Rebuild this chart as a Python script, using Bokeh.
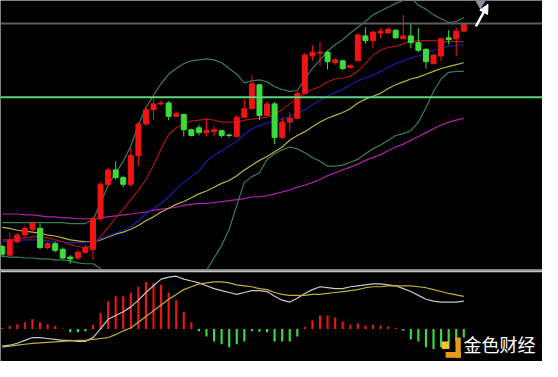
from bokeh.plotting import figure
from bokeh.layouts import column
from bokeh.models import ColumnDataSource, Range1d, Span, Arrow, NormalHead, Label
from bokeh.embed import file_html
from bokeh.resources import INLINE

# ---- price data (arbitrary price units) ----
opens = [25, 16, 30, 37, 43, 44, 24, 28, 22, 14, 13, 19, 22, 54, 90, 105, 97, 90, 120, 153,
         168, 174, 175, 161, 163, 147, 149, 144, 145, 146, 141.5, 140, 160, 169, 194, 162, 174, 139, 155, 159,
         185, 224, 227, 228, 217, 219, 212, 219, 245, 240, 248, 248, 251, 242, 245, 238, 231, 216, 224, 243,
         242, 250]
closes = [17, 32, 37, 44, 49, 24, 28, 21, 13, 12, 19, 24, 54, 90, 105, 97, 90, 120, 153, 168,
          174, 175, 161, 164, 147, 141, 144, 146, 147, 141, 141, 160, 169, 195, 162, 174, 139, 155, 159, 185,
          225, 228, 228, 218, 220, 211, 214, 246, 240, 249, 250, 252, 243, 245, 238, 230, 218, 225, 242, 241,
          250, 258]
highs = [27, 40, 39, 46, 51, 49, 30, 30, 24, 16, 22, 27, 56, 92, 107, 114, 99, 128, 155, 172,
         183, 178, 177, 166, 164, 148, 152, 159, 151, 147, 143, 162, 179, 204, 195, 177, 176, 160, 165, 187,
         227, 235, 239, 230, 222, 220, 215, 248, 254, 250, 253, 254, 252, 267, 259, 253, 232, 226, 243, 251,
         254, 258]
lows = [14, 15, 28, 35, 41, 22, 22, 19, 12, 7, 11, 17, 11, 52, 88, 95, 87, 87, 109, 151,
        157, 172, 157, 160, 140, 140, 141, 140, 140, 139, 139, 139, 160, 169, 157, 162, 132, 137, 145, 158,
        184, 219, 214, 210, 215, 209, 211, 219, 237, 232, 242, 248, 242, 242, 232, 228, 211, 216, 219, 236,
        224, 250]

bb_upper = [50, 50, 50, 50, 50, 50, 50, 50, 50, 49, 49, 49, 53, 70, 89, 102, 114, 130, 152, 170,
            183, 195, 205, 211, 216, 219, 220, 221, 220, 217, 211, 205, 196, 198, 199, 197, 192, 189, 187, 188,
            200, 211, 220, 229, 236, 241, 248, 254, 260, 267, 271, 275, 279, 282, 285, 277, 273, 267, 263, 259,
            260, 264]
bb_lower = [15, 14, 14, 13, 13, 12, 12, 11, 11, 10, 8, 7, 7, 2, -10, -21, -30, -38, -44, -48,
            -52, -53, -51, -48, -40, -30, -18, 0, 13, 26, 43, 68, 92, 98, 102, 116, 122, 126, 129, 127,
            123, 118, 114, 109, 109, 110, 113, 116, 122, 127, 131, 136, 141, 143, 146, 155, 170, 187, 200, 207,
            208, 208]
ma_red = [32, 32, 33, 34, 35, 35, 34, 32, 30, 27, 25, 24, 26, 35, 45, 55, 64, 74, 84, 95,
          110, 127, 142, 149, 153, 156, 157, 158, 157, 155, 155, 155, 157, 158, 159, 160, 163, 168, 174, 180,
          185, 189, 192, 197, 200, 201, 203, 208, 216, 225, 230, 233, 234, 237, 239, 240, 240, 240, 239, 239,
          239, 239]
ma_blue = [30, 31, 31, 32, 32, 32, 31, 30, 30, 29, 29, 29, 30, 33, 36, 39, 42, 46, 52, 59,
           65, 70, 77, 85, 92, 98, 104, 114, 120, 125, 130, 135, 142, 148, 151, 154, 156, 158, 161, 164,
           168, 173, 178, 182, 186, 189, 194, 198, 201, 204, 208, 212, 216, 219, 222, 224, 227, 230, 232, 234,
           235, 236]
ma_yellow = [45, 44, 42, 41, 40, 39, 37, 36, 34, 32, 31, 30, 30, 32, 35, 38, 40, 43, 47, 52,
             56, 61, 65, 69, 72, 76, 80, 83, 87, 91, 94, 99, 105, 110, 115, 119, 124, 129, 136, 141,
             145, 150, 155, 159, 162, 165, 169, 175, 179, 182, 185, 190, 194, 197, 200, 202, 205, 208, 211, 213,
             215, 217]
ma_magenta = [59, 59, 59, 58, 58, 57, 56, 56, 55, 55, 54, 54, 54, 55, 56, 57, 58, 59, 60, 61,
              63, 64, 65, 66, 68, 69, 70, 70, 71, 72, 73, 74, 75, 77, 77, 78, 80, 82, 84, 87,
              89, 92, 95, 99, 102, 105, 108, 111, 115, 118, 121, 125, 129, 132, 136, 140, 144, 148, 152, 155,
              157, 159]
resistance = 258
support = 181

# ---- MACD data ----
macd_hist = [1, 3, 5, 7, 10, 7, 5, 3, 0.5, -3.5, -3.5, -2.5, 4, 17, 29, 34, 34, 38, 44, 49,
             48, 46, 38, 30, 18, 7, -2.5, -8, -13, -16, -19, -16, -13, -2.5, -3, -3.5, -13, -13, -13, -8,
             2, 9, 14, 14, 12, 8, 4.5, 6, 3.5, 4, 3.5, 2.5, 1, -2, -11, -13, -19, -21, -19, -14,
             -13, -9]
dif = [-18, -17, -15, -12, -9, -9, -10, -11, -12, -12, -13, -13, -9, 0, 10, 14, 18, 23, 30, 38,
       45, 52, 54, 55, 52, 50, 48, 45, 42, 40, 38, 36, 38, 40, 40, 39, 34, 30, 28, 32,
       37, 41, 44, 43, 42, 42, 44, 45, 46, 47, 47, 46, 45, 42, 39, 35, 31, 29, 28, 28,
       28, 29]
dea = [-19, -18, -17, -16, -15, -14.5, -14, -13.5, -13, -12.5, -12, -12, -11, -10, -9, -6, -2, 1, 7, 13,
       19, 25, 31, 36, 41, 44, 47, 48, 49, 49, 48, 46, 45, 44, 42, 41, 38, 36, 35, 35,
       35, 36, 36, 37, 38, 39, 40, 41, 43, 44, 44, 45, 45, 45, 45, 44, 43, 41, 39, 37,
       35.5, 34]

n = len(opens)
idx = list(range(n))
UP = "#f01414"
DOWN = "#3cdc3c"
BG = "#000000"

cols = [UP if c >= o else DOWN for o, c in zip(opens, closes)]
src = ColumnDataSource(dict(
    x=idx, top=[max(o, c) for o, c in zip(opens, closes)],
    bottom=[min(o, c) for o, c in zip(opens, closes)],
    high=highs, low=lows, color=cols,
    bbu=bb_upper, bbl=bb_lower, red=ma_red, blue=ma_blue, yel=ma_yellow, mag=ma_magenta,
))

W = 542
xr = Range1d(-0.22, 71.4)

p = figure(width=W, height=269, x_range=xr, y_range=Range1d(1, 282),
           output_backend="svg", toolbar_location=None,
           background_fill_color=BG, border_fill_color=BG, min_border=0,
           outline_line_color=None)
p.axis.visible = False
p.grid.visible = False

p.add_layout(Span(location=resistance, dimension="width", line_color="#5c5c5c", line_width=2))
p.add_layout(Span(location=support, dimension="width", line_color="#5cd47c", line_width=2))

p.line("x", "mag", source=src, line_color="#b020b0", line_width=1.2)
p.line("x", "yel", source=src, line_color="#b8b43c", line_width=1.2)
p.line("x", "blue", source=src, line_color="#1c1ca8", line_width=1.2)
p.line("x", "red", source=src, line_color="#a81414", line_width=1.2)
p.line("x", "bbu", source=src, line_color="#3a7c5a", line_width=1.2)
p.line("x", "bbl", source=src, line_color="#3a7c5a", line_width=1.2)

p.segment(x0="x", y0="low", x1="x", y1="high", source=src, line_color="color", line_width=1)
p.vbar(x="x", width=0.66, top="top", bottom="bottom", source=src,
       fill_color="color", line_color="color", line_width=1)

# marker & arrow after the last candle
last = n - 1
p.scatter([last + 2.2], [highs[-1] + 21], marker="inverted_triangle", size=9,
          fill_color="#8894a4", line_color="#8894a4")
p.add_layout(Arrow(end=NormalHead(size=9, fill_color="white", line_color="white"),
                   x_start=last + 1.6, y_start=highs[-1] - 3,
                   x_end=last + 3.2, y_end=highs[-1] + 20,
                   line_color="white", line_width=2.5))

# ---- MACD panel ----
msrc = ColumnDataSource(dict(
    x=idx, h=macd_hist, dif=dif, dea=dea,
    color=[UP if v >= 0 else DOWN for v in macd_hist],
))
q = figure(width=W, height=92, x_range=xr, y_range=Range1d(-34, 62),
           output_backend="svg", toolbar_location=None,
           background_fill_color=BG, border_fill_color=BG, min_border=0,
           outline_line_color=None)
q.axis.visible = False
q.grid.visible = False
q.add_layout(Span(location=60.3, dimension="width", line_color="#c8c8c8", line_width=2))
q.vbar(x="x", width=0.28, top="h", bottom=0, source=msrc, fill_color="color", line_color=None)
q.line("x", "dif", source=msrc, line_color="#c8c8c8", line_width=1.2)
q.line("x", "dea", source=msrc, line_color="#bcae3c", line_width=1.2)

# watermark logo (bracket + small square) and name
q.quad(left=[59.9, 58.6], right=[60.6, 60.6], bottom=[-30, -30], top=[-9, -24],
       fill_color="#e89a1c", line_color=None)
q.quad(left=[58.1], right=[59.1], bottom=[-21], top=[-13], fill_color="#f6c232", line_color=None)
q.add_layout(Label(x=463, y=5, x_units="screen", y_units="screen", text="金色财经",
                   text_color="white", text_font="Noto Sans CJK SC", text_font_size="18px"))

layout = column(p, q, spacing=0)
open("out.html", "w").write(file_html(layout, INLINE))
